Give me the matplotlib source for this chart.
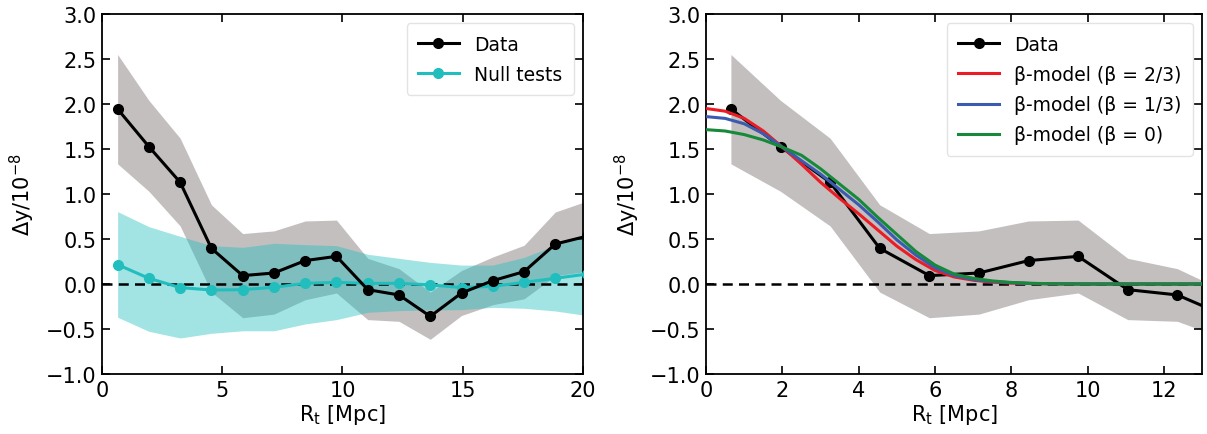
import numpy as np
import matplotlib
matplotlib.use("Agg")
import matplotlib.pyplot as plt

# ---------------- data ----------------
r_bins = [0.65, 1.95, 3.25, 4.55, 5.85, 7.15, 8.45, 9.75, 11.05, 12.35,
          13.65, 14.95, 16.25, 17.55, 18.85, 20.15]
data_y = [1.944, 1.526, 1.13, 0.396, 0.093, 0.122, 0.26, 0.307, -0.063, -0.122,
          -0.36, -0.10, 0.037, 0.137, 0.444, 0.53]
data_hi = [2.55, 2.04, 1.62, 0.88, 0.56, 0.59, 0.70, 0.71, 0.285, 0.17,
           -0.09, 0.15, 0.30, 0.43, 0.80, 0.92]
data_lo = [1.335, 1.03, 0.645, -0.09, -0.375, -0.335, -0.175, -0.10, -0.396, -0.415,
           -0.615, -0.35, -0.23, -0.165, 0.09, 0.14]

null_y = [0.215, 0.063, -0.04, -0.067, -0.063, -0.037, 0.007, 0.018, 0.007, 0.007,
          -0.01, -0.04, -0.026, 0.018, 0.063, 0.11]
null_hi = [0.804, 0.637, 0.53, 0.426, 0.407, 0.452, 0.437, 0.426, 0.33, 0.285,
           0.24, 0.21, 0.21, 0.296, 0.43, 0.55]
null_lo = [-0.37, -0.526, -0.60, -0.548, -0.52, -0.52, -0.444, -0.396, -0.315, -0.296,
           -0.289, -0.285, -0.26, -0.27, -0.30, -0.35]

r_model = [0.0, 0.5, 1.0, 1.5, 2.0, 2.5, 3.0, 3.5, 4.0, 4.5, 5.0, 5.5, 6.0, 6.5,
           7.0, 7.5, 8.0, 8.5, 9.0, 9.5, 10.0, 10.5, 11.0, 11.5, 12.0, 12.5, 13.0]
model_b23 = [1.95, 1.92, 1.84, 1.70, 1.52, 1.33, 1.13, 0.95, 0.78, 0.60, 0.42, 0.27,
             0.15, 0.078, 0.042, 0.02, 0.01, 0.005, 0.002, 0.001, 0, 0, 0, 0, 0, 0, 0]
model_b13 = [1.86, 1.84, 1.78, 1.67, 1.52, 1.37, 1.22, 1.05, 0.88, 0.69, 0.49, 0.32,
             0.18, 0.095, 0.05, 0.027, 0.014, 0.006, 0.002, 0.001, 0, 0, 0, 0, 0, 0, 0]
model_b0 = [1.715, 1.70, 1.66, 1.60, 1.52, 1.43, 1.28, 1.11, 0.94, 0.74, 0.55, 0.36,
            0.21, 0.11, 0.063, 0.034, 0.017, 0.008, 0.003, 0.001, 0, 0, 0, 0, 0, 0, 0]

# ---------------- style ----------------
plt.rcParams['font.family'] = ['DejaVu Sans']
GREY = '#c3bfbf'
CYAN = '#22bebe'
RED = '#ec1c24'
BLUE = '#3a5bb0'
GREEN = '#168a3a'

fig = plt.figure(figsize=(12.07, 4.35), dpi=100)
ax1 = fig.add_axes([0.0845, 0.138, 0.3985, 0.8275])
ax2 = fig.add_axes([0.585, 0.138, 0.411, 0.8275])


def style(ax, xlim, xticks):
    ax.set_xlim(*xlim)
    ax.set_ylim(-1.0, 3.0)
    ax.set_xticks(xticks)
    ax.set_yticks(np.arange(-1.0, 3.01, 0.5))
    ax.set_yticklabels([f"{v:.1f}".replace('-', '\u2212') for v in np.arange(-1.0, 3.01, 0.5)])
    ax.tick_params(direction='in', top=True, right=True, length=6, width=1.2,
                   labelsize=15, pad=4)
    for s in ax.spines.values():
        s.set_linewidth(1.3)
    ax.set_xlabel(r'R$_{\rm t}$ [Mpc]', fontsize=15, labelpad=2)
    ax.set_ylabel(r'$\Delta$y/10$^{-8}$', fontsize=15, labelpad=6)


LEG = dict(loc='upper right', fontsize=13.5, handlelength=2.2, borderpad=0.6,
           labelspacing=0.6, handletextpad=0.8, framealpha=0.8, edgecolor='#dddddd')

# left panel
ax1.fill_between(r_bins, data_lo, data_hi, color=GREY, lw=0, zorder=1)
ax1.fill_between(r_bins, null_lo, null_hi, color=CYAN, alpha=0.42, lw=0, zorder=2)
ax1.axhline(0, color='k', ls='--', lw=1.8, dashes=(4, 2.5), zorder=3)
ax1.plot(r_bins, data_y, '-o', color='k', lw=2.2, ms=7, label='Data', zorder=5)
ax1.plot(r_bins, null_y, '-o', color=CYAN, lw=2.2, ms=7, label='Null tests', zorder=4)
style(ax1, (0, 20), [0, 5, 10, 15, 20])
ax1.legend(**LEG)

# right panel
ax2.fill_between(r_bins, data_lo, data_hi, color=GREY, lw=0, zorder=1)
ax2.axhline(0, color='k', ls='--', lw=1.8, dashes=(4, 2.5), zorder=3)
ax2.plot(r_bins, data_y, '-o', color='k', lw=2.2, ms=7, label='Data', zorder=4)
ax2.plot(r_model, model_b23, color=RED, lw=2.2, label='β-model (β = 2/3)', zorder=5)
ax2.plot(r_model, model_b13, color=BLUE, lw=2.2, label='β-model (β = 1/3)', zorder=5)
ax2.plot(r_model, model_b0, color=GREEN, lw=2.2, label='β-model (β = 0)', zorder=5)
style(ax2, (0, 13), [0, 2, 4, 6, 8, 10, 12])
ax2.legend(**LEG)

fig.savefig('out.png', dpi=100)
